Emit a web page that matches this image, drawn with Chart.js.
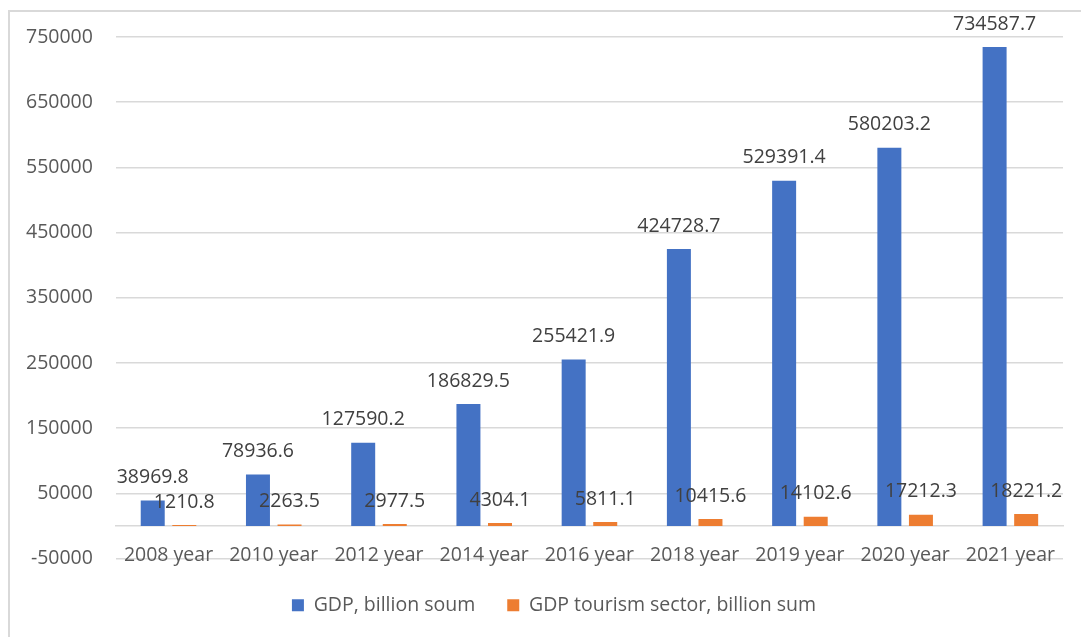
<!DOCTYPE html>
<html>
<head>
<meta charset="utf-8">
<title>GDP and GDP tourism sector</title>
<script src="https://cdn.jsdelivr.net/npm/chart.js@4.4.0/dist/chart.umd.min.js"></script>
<style>
    html, body { margin: 0; padding: 0; background: #fff; }
    .wrap { position: relative; width: 1081px; height: 637px; overflow: hidden; }
    .frame { position: absolute; left: 8px; top: 10px; right: -10px; bottom: -10px; border-left: 2px solid #d9d9d9; border-top: 2px solid #d9d9d9; }
    #chart { position: absolute; left: 0; top: 0; }
</style>
</head>
<body>
<div class="wrap">
    <div class="frame"></div>
    <canvas id="chart" width="1081" height="637"></canvas>
</div>
<script>
// Chart data
const years = ['2008 year', '2010 year', '2012 year', '2014 year', '2016 year', '2018 year', '2019 year', '2020 year', '2021 year'];
const gdp = [38969.8, 78936.6, 127590.2, 186829.5, 255421.9, 424728.7, 529391.4, 580203.2, 734587.7];
const gdpTourism = [1210.8, 2263.5, 2977.5, 4304.1, 5811.1, 10415.6, 14102.6, 17212.3, 18221.2];
const seriesNames = ['GDP, billion soum', 'GDP tourism sector, billion sum'];
const yMin = -50000;
const yMax = 750000;
const yStep = 100000;

document.addEventListener("DOMContentLoaded", () => {
    const font = { family: "'Open Sans', sans-serif", size: 19.5 };

    // Value labels above each bar (like Excel "outside end")
    const valueLabels = {
        id: 'valueLabels',
        afterDatasetsDraw(chart) {
            const ctx = chart.ctx;
            ctx.save();
            ctx.font = font.size + 'px ' + font.family;
            ctx.fillStyle = '#404040';
            ctx.textAlign = 'center';
            ctx.textBaseline = 'middle';
            chart.data.datasets.forEach((ds, i) => {
                chart.getDatasetMeta(i).data.forEach((bar, j) => {
                    ctx.fillText(String(ds.data[j]), bar.x, bar.y - 23);
                });
            });
            ctx.restore();
        }
    };

    // legend sits a bit right of the plot centre in the original
    const legendShift = {
        id: 'legendShift',
        afterLayout(chart) {
            chart.legend.left += 21;
            chart.legend.right += 21;
        }
    };

    new Chart(document.getElementById('chart').getContext('2d'), {
        type: 'bar',
        data: {
            labels: years,
            datasets: [
                {
                    label: seriesNames[0],
                    data: gdp,
                    backgroundColor: '#4472C4',
                    categoryPercentage: 0.6,
                    barPercentage: 0.76
                },
                {
                    label: seriesNames[1],
                    data: gdpTourism,
                    backgroundColor: '#ED7D31',
                    categoryPercentage: 0.6,
                    barPercentage: 0.76
                }
            ]
        },
        options: {
            responsive: false,
            animation: false,
            layout: {
                padding: { left: 3, right: 18, top: 37, bottom: 12 }
            },
            scales: {
                x: {
                    position: { y: 0 },
                    grid: { display: false, drawTicks: false, tickLength: 0 },
                    border: { display: true, color: '#d9d9d9', width: 1.5 },
                    ticks: { color: '#595959', font: font, padding: 18, maxRotation: 0, autoSkip: false }
                },
                y: {
                    min: yMin,
                    max: yMax,
                    grid: { color: '#d9d9d9', lineWidth: 1.5, drawTicks: false },
                    border: { display: false },
                    ticks: {
                        stepSize: yStep,
                        color: '#595959',
                        font: font,
                        padding: 23,
                        callback: (v) => String(v)
                    }
                }
            },
            plugins: {
                legend: {
                    display: true,
                    position: 'bottom',
                    // empty title only used to push the legend items down
                    title: { display: true, text: ' ', font: { size: 1, lineHeight: 1 }, padding: { top: 4, bottom: 0 } },
                    labels: {
                        boxWidth: 12,
                        boxHeight: 12,
                        padding: 32,
                        color: '#595959',
                        font: font
                    }
                },
                tooltip: { enabled: false }
            }
        },
        plugins: [valueLabels, legendShift]
    });
});
</script>
</body>
</html>
